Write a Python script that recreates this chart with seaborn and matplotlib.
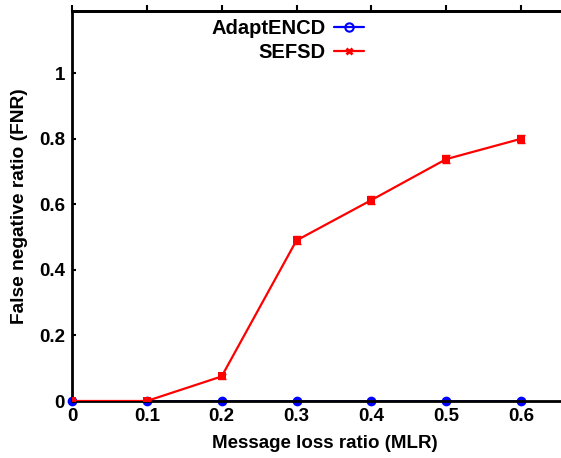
import matplotlib
matplotlib.use("Agg")
import matplotlib.pyplot as plt
import seaborn as sns
import pandas as pd
from matplotlib.lines import Line2D

mlr = [0, 0.1, 0.2, 0.3, 0.4, 0.5, 0.6]
adapt_fnr = [0, 0, 0, 0, 0, 0, 0]
sefsd_fnr = [0, 0, 0.075, 0.49, 0.613, 0.738, 0.80]
sefsd_err = [0.004, 0.004, 0.008, 0.012, 0.012, 0.012, 0.012]
xtick_vals = [0, 0.1, 0.2, 0.3, 0.4, 0.5, 0.6]
xtick_labels = ["0", "0.1", "0.2", "0.3", "0.4", "0.5", "0.6"]
ytick_vals = [0, 0.2, 0.4, 0.6, 0.8, 1.0]
ytick_labels = ["0", "0.2", "0.4", "0.6", "0.8", "1"]

sns.set_style("white")
plt.rcParams['font.family'] = ['Liberation Sans', 'DejaVu Sans']
plt.rcParams['font.weight'] = 'bold'
plt.rcParams['text.color'] = 'black'
plt.rcParams['axes.labelcolor'] = 'black'
plt.rcParams['xtick.color'] = 'black'
plt.rcParams['ytick.color'] = 'black'

fig = plt.figure(figsize=(5.61, 4.58), dpi=100)
ax = fig.add_axes([72/561, 57/458, 0.9, 390/458])

df = pd.DataFrame({"MLR": mlr + mlr,
                   "FNR": adapt_fnr + sefsd_fnr,
                   "Method": ["AdaptENCD"] * len(mlr) + ["SEFSD"] * len(mlr)})

sns.lineplot(data=df[df.Method == "SEFSD"], x="MLR", y="FNR", color="red",
             linewidth=1.6, marker="s", markersize=5.5, markeredgewidth=0,
             ax=ax, legend=False, zorder=3)
ax.errorbar(mlr, sefsd_fnr, yerr=sefsd_err, fmt="none", ecolor="red",
            elinewidth=1.2, capsize=3, zorder=3)
sns.lineplot(data=df[df.Method == "AdaptENCD"], x="MLR", y="FNR", color="blue",
             linewidth=1.2, marker="o", markersize=7, markeredgewidth=0,
             ax=ax, legend=False, zorder=2, clip_on=False)

ax.set_xlim(0, 0.6 * (0.9 * 561) / (521 - 72))
ax.set_ylim(0, 1.19)

ax.set_xticks(xtick_vals)
ax.set_xticklabels(xtick_labels)
ax.set_yticks(ytick_vals)
ax.set_yticklabels(ytick_labels)
ax.tick_params(axis="both", direction="in", length=3, width=1.5,
               labelsize=13.5, pad=5, left=True, bottom=True, right=False, top=False)
# top ticks point outward
axt = ax.secondary_xaxis("top")
axt.set_xticks(xtick_vals)
axt.set_xticklabels([])
axt.tick_params(direction="out", length=4, width=1.5)
axt.spines["top"].set_linewidth(2)
axt.spines["top"].set_color("black")
for lab in ax.get_xticklabels() + ax.get_yticklabels():
    lab.set_fontweight("bold")

for side in ["left", "bottom", "top"]:
    ax.spines[side].set_visible(True)
    ax.spines[side].set_linewidth(2)
    ax.spines[side].set_color("black")
ax.spines["right"].set_visible(False)

ax.set_xlabel("Message loss ratio (MLR)", fontsize=13.5, fontweight="bold", labelpad=7)
ax.set_ylabel("False negative ratio (FNR)", fontsize=13.8, fontweight="bold", labelpad=8)

handles = [Line2D([0], [0], color="blue", lw=1.6, marker="o", markersize=6,
                  markerfacecolor="none", markeredgecolor="blue", markeredgewidth=1.5),
           Line2D([0], [0], color="red", lw=1.6, marker="x", markersize=5,
                  markeredgewidth=2)]
leg = ax.legend(handles, ["AdaptENCD", "SEFSD"], loc="upper left",
                bbox_to_anchor=(0.24, 1.025), frameon=False, markerfirst=False,
                prop={"size": 14.5, "weight": "bold"}, handlelength=1.5,
                handletextpad=0.4, labelspacing=0.25)
for t in leg.get_texts():
    t.set_ha("right")

fig.savefig("out.png", dpi=100)
